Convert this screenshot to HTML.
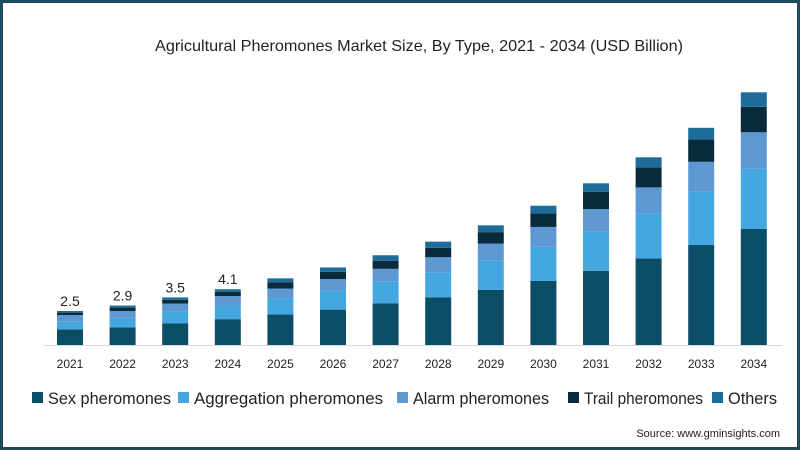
<!DOCTYPE html>
<html><head><meta charset="utf-8"><style>
body{margin:0;background:#fff}
#wrap{position:relative;width:800px;height:450px;box-sizing:border-box;border:3px solid #1f4b5c;background:#fff;font-family:"Liberation Sans",sans-serif;overflow:hidden}
svg{position:absolute;left:-3px;top:-3px}
</style></head><body>
<div id="wrap">
<svg id="c" width="800" height="450"></svg>
</div>
<script>
const years=["2021","2022","2023","2024","2025","2026","2027","2028","2029","2030","2031","2032","2033","2034"];
const sexVals=[1.15,1.3,1.6,1.9,2.25,2.6,3.05,3.5,4.05,4.71,5.46,6.37,7.35,8.53];
const aggVals=[0.6,0.7,0.85,1.0,1.2,1.4,1.6,1.85,2.15,2.52,2.87,3.31,3.92,4.46];
const alarmVals=[0.45,0.5,0.6,0.7,0.7,0.85,0.95,1.1,1.25,1.45,1.67,1.91,2.2,2.65];
const trailVals=[0.18,0.25,0.28,0.32,0.45,0.53,0.6,0.7,0.85,1.0,1.27,1.47,1.65,1.88];
const otherVals=[0.12,0.15,0.17,0.18,0.3,0.32,0.4,0.45,0.5,0.56,0.62,0.74,0.85,1.06];
const totalLabels=["2.5","2.9","3.5","4.1"];
const seriesNames=["Sex pheromones","Aggregation pheromones","Alarm pheromones","Trail pheromones","Others"];
const series=[sexVals,aggVals,alarmVals,trailVals,otherVals];
const colors=["#0b4d66","#45a7df","#5d98d3","#0a2b3d","#1d6c99"];
const NS="http://www.w3.org/2000/svg";
const svg=document.getElementById('c');
function mk(t,a,txt){const e=document.createElementNS(NS,t);for(const k in a)e.setAttribute(k,a[k]);if(txt!=null)e.textContent=txt;svg.appendChild(e);return e;}
const base=345, scale=13.6, x0=70, step=52.6, bw=26;
const xs=i=>x0+i*step;
const ys=v=>v*scale;
let t=mk('text',{x:155,y:51,'font-size':16,textLength:528,lengthAdjust:'spacingAndGlyphs',fill:'#222'},"Agricultural Pheromones Market Size, By Type, 2021 - 2034 (USD Billion)");


let ax=mk('line',{x1:44,x2:782,y1:base+0.5,y2:base+0.5,stroke:'#d8d8d8','stroke-width':1});


years.forEach((yr,i)=>{
  let acc=0;
  series.forEach((s,k)=>{
    const h=ys(s[i]);
    const r=mk('rect',{x:xs(i)-bw/2,y:base-ys(acc)-h,width:bw,height:h,fill:colors[k]});
    
    
    acc+=s[i];
  });
  const l=mk('text',{x:xs(i),y:368,'text-anchor':'middle','font-size':12,fill:'#222'},yr);
  
  
  if(i<totalLabels.length){
    const v=mk('text',{x:xs(i),y:base-ys(acc)-5,'text-anchor':'middle','font-size':14,fill:'#222'},totalLabels[i]);
    
    
  }
});
const legX=[32,178,397,568,712];
const legW=[123,189,136,119,49];
seriesNames.forEach((n,k)=>{
  const r=mk('rect',{x:legX[k],y:392,width:11,height:11,fill:colors[k]});
  
  
  const tx=mk('text',{x:legX[k]+16,y:404,'font-size':17,textLength:legW[k],lengthAdjust:'spacingAndGlyphs',fill:'#222'},n);
  
  
});
const src=mk('text',{x:780,y:437,'text-anchor':'end','font-size':11,fill:'#222'},"Source: www.gminsights.com");


</script>
</body></html>
